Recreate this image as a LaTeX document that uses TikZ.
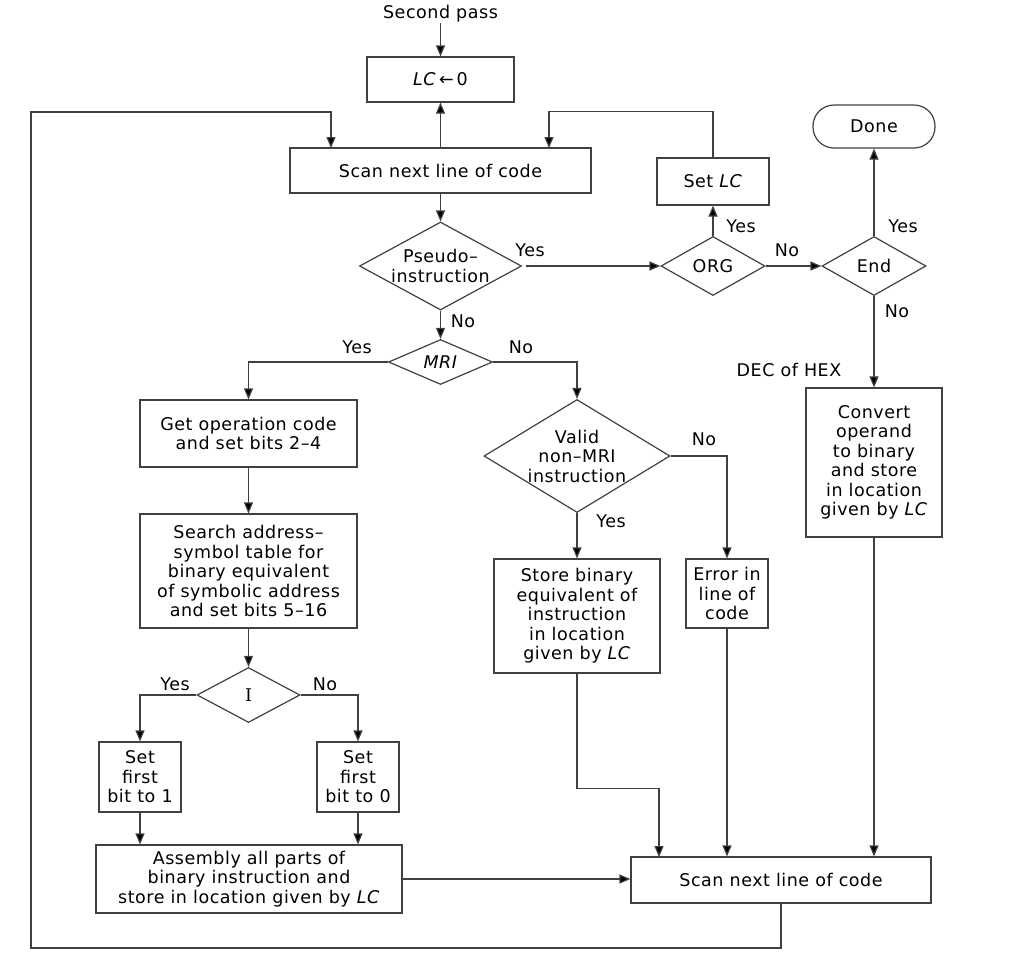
\documentclass[tikz,border=0pt]{standalone}
\usepackage{fontspec}
\setmainfont[LetterSpace=3]{DejaVu Sans}
\newfontfamily\serifI{DejaVu Serif}
\usetikzlibrary{shapes.geometric,arrows.meta}
\begin{document}
\begin{tikzpicture}[x=1pt,y=-1pt,
  font=\fontsize{17.5}{19.5}\selectfont,
  line/.style={draw=black!75, line width=1.2pt},
  arr/.style={line, -{Triangle[length=11pt,width=9pt,fill=black]}},
  box/.style={draw=black!75, line width=1.2pt, rectangle, inner sep=0pt, align=center},
  dec/.style n args={3}{draw=black!75, line width=1.2pt, diamond, inner sep=0pt,
     minimum width=#1pt, minimum height=#2pt, shape aspect=#3},
  lab/.style={inner sep=0pt}
]
\useasboundingbox (0,0) rectangle (1012,954);

% boxes
\node[lab] (sp) at (440.5,14) {Second pass};
\node[box, minimum width=147pt, minimum height=45pt] (lc) at (440.5,79.5) {\textit{LC}\,←\,0};
\node[box, minimum width=301pt, minimum height=45pt] (scanA) at (440.5,170.5) {Scan next line of code};
\node[box, minimum width=112pt, minimum height=47pt] (setlc) at (713,181.5) {Set \textit{LC}};
\node[box, minimum width=122pt, minimum height=43pt, rounded corners=21pt] (done) at (874,126.5) {Done};
\node[box, minimum width=136pt, minimum height=149pt] (conv) at (874,462.5) {Convert\\operand\\to binary\\and store\\in location\\given by \textit{LC}};
\node[box, minimum width=217pt, minimum height=67pt] (get) at (248.5,433.5) {Get operation code\\and set bits 2–4};
\node[box, minimum width=217pt, minimum height=114pt] (search) at (248.5,571) {Search address–\\symbol table for\\binary equivalent\\of symbolic address\\and set bits 5–16};
\node[box, minimum width=82pt, minimum height=70pt] (set1) at (140,777) {Set\\first\\bit to 1};
\node[box, minimum width=82pt, minimum height=70pt] (set0) at (358,777) {Set\\first\\bit to 0};
\node[box, minimum width=306pt, minimum height=68pt] (asm) at (249,879) {Assembly all parts of\\binary instruction and\\store in location given by \textit{LC}};
\node[box, minimum width=166pt, minimum height=114pt] (store) at (577,616) {Store binary\\equivalent of\\instruction\\in location\\given by \textit{LC}};
\node[box, minimum width=82pt, minimum height=69pt] (err) at (727,593.5) {Error in\\line of\\code};
\node[box, minimum width=300pt, minimum height=46pt] (scanB) at (781,880) {Scan next line of code};

% decisions
\node[dec={162}{88}{1.84}, label={[align=center,lab]center:Pseudo–\\instruction}] (pseudo) at (440.5,266) {};
\node[dec={104}{59}{1.76}, label={[lab]center:ORG}] (org) at (713,266) {};
\node[dec={104}{59}{1.76}, label={[lab]center:End}] (end) at (874,266) {};
\node[dec={104}{45}{2.31}, label={[lab]center:\textit{MRI}}] (mri) at (440.5,362) {};
\node[dec={103}{55}{1.87}, label={[lab]center:{\serifI I}}] (idec) at (248.5,695) {};
\node[dec={186}{113}{1.65}, label={[align=center,lab]center:Valid\\non–MRI\\instruction}] (valid) at (577,456) {};

% labels
\node[lab] (y1) at (530,250) {Yes};
\node[lab] (y2) at (741,226) {Yes};
\node[lab] (n1) at (787,250) {No};
\node[lab] (y3) at (903,226) {Yes};
\node[lab] (n2) at (897,311) {No};
\node[lab] (dh) at (789,370) {DEC of HEX};
\node[lab] (n3) at (463,321) {No};
\node[lab] (y4) at (357,347) {Yes};
\node[lab] (n4) at (521,347) {No};
\node[lab] (y5) at (175,684) {Yes};
\node[lab] (n5) at (325,684) {No};
\node[lab] (n6) at (704,439) {No};
\node[lab] (y6) at (611,521) {Yes};

% helper coordinates
\coordinate (l1) at (31,948);
\coordinate (l2) at (31,112);
\coordinate (inL) at (331,148);
\coordinate (inR) at (549,148);
\coordinate (inS) at (659,857);

% connectors
\draw[arr] (sp) -- (lc.north);
\draw[arr] (scanA.north) -- (lc.south);
\draw[arr] (scanB.south) |- (l1) -- (l2) -| (inL);
\draw[arr] (setlc.north) -- ++(0,-46) -| (inR);
\draw[arr] (scanA.south) -- (pseudo.north);
\draw[arr, shorten <=4pt] (pseudo.east) -- (org.west);
\draw[arr] (org.north) -- (setlc.south);
\draw[arr] (org.east) -- (end.west);
\draw[arr] (end.north) -- (done.south);
\draw[arr] (end.south) -- (conv.north);
\draw[arr] (conv.south) -- (conv.south |- scanB.north);
\draw[arr] (pseudo.south) -- (mri.north);
\draw[arr] (mri.west) -| (get.north);
\draw[arr] (mri.east) -| (valid.north);
\draw[arr] (get.south) -- (search.north);
\draw[arr] (search.south) -- (idec.north);
\draw[arr] (idec.west) -| (set1.north);
\draw[arr] (idec.east) -| (set0.north);
\draw[arr] (set1.south) -- (set1.south |- asm.north);
\draw[arr] (set0.south) -- (set0.south |- asm.north);
\draw[arr] (asm.east) -- (asm.east -| scanB.west);
\draw[arr] (valid.east) -| (err.north);
\draw[arr] (valid.south) -- (store.north);
\draw[arr] (store.south) -- ++(0,115) -| (inS);
\draw[arr] (err.south) -- (err.south |- scanB.north);
\end{tikzpicture}
\end{document}
